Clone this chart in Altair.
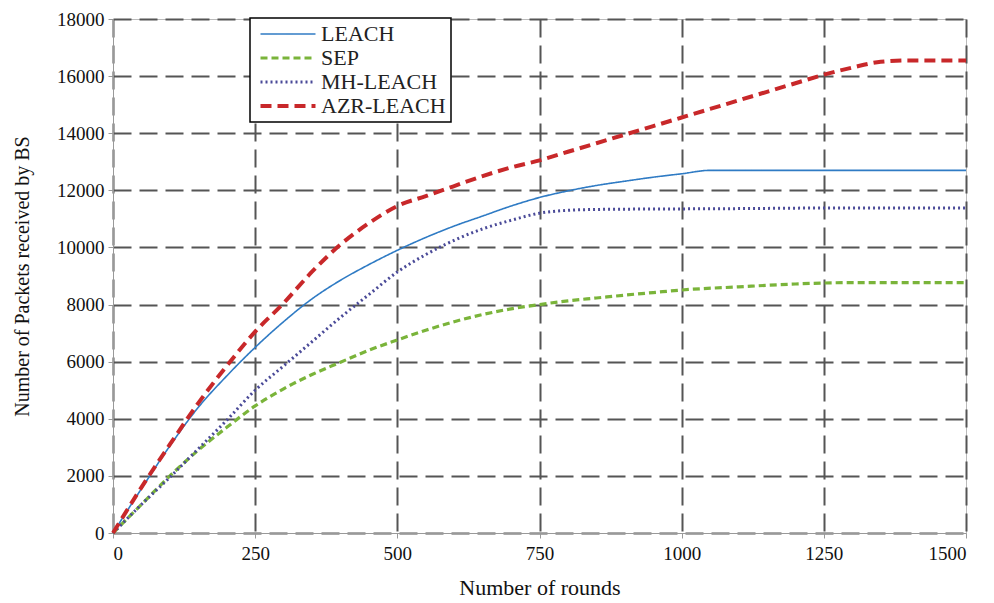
import altair as alt
import pandas as pd

series_names = ["LEACH", "SEP", "MH-LEACH", "AZR-LEACH"]

leach_r = [0, 50, 100, 150, 200, 250, 300, 350, 400, 450, 500, 550, 600, 650, 700, 750, 800, 850, 900, 950, 1000, 1050, 1100, 1200, 1300, 1400, 1500]
leach_v = [0, 1550, 3050, 4400, 5500, 6500, 7400, 8200, 8850, 9400, 9900, 10350, 10750, 11100, 11450, 11750, 11980, 12170, 12320, 12460, 12580, 12700, 12700, 12700, 12700, 12700, 12700]

sep_r = [0, 50, 100, 150, 200, 250, 300, 350, 400, 450, 500, 550, 600, 650, 700, 750, 800, 850, 900, 950, 1000, 1100, 1200, 1250, 1300, 1400, 1500]
sep_v = [0, 1000, 2000, 2900, 3700, 4450, 5050, 5550, 5980, 6400, 6760, 7100, 7400, 7650, 7850, 8000, 8130, 8230, 8330, 8420, 8510, 8620, 8720, 8755, 8770, 8770, 8770]

mh_r = [0, 50, 100, 150, 200, 250, 300, 350, 400, 450, 500, 550, 600, 650, 700, 750, 800, 850, 900, 1000, 1100, 1250, 1500]
mh_v = [0, 1000, 1950, 2950, 3950, 5000, 5850, 6700, 7550, 8350, 9140, 9750, 10250, 10650, 10950, 11200, 11300, 11330, 11340, 11350, 11360, 11380, 11380]

azr_r = [0, 50, 100, 150, 200, 250, 300, 350, 400, 450, 500, 550, 600, 650, 700, 750, 800, 850, 900, 950, 1000, 1050, 1100, 1150, 1200, 1250, 1300, 1350, 1400, 1500]
azr_v = [0, 1600, 3100, 4550, 5850, 7050, 8050, 9150, 10100, 10850, 11450, 11800, 12150, 12500, 12800, 13050, 13350, 13650, 13950, 14250, 14550, 14850, 15150, 15450, 15750, 16050, 16300, 16500, 16550, 16550]

rows = []
for name, rr, vv in [("LEACH", leach_r, leach_v), ("SEP", sep_r, sep_v),
                     ("MH-LEACH", mh_r, mh_v), ("AZR-LEACH", azr_r, azr_v)]:
    for r, v in zip(rr, vv):
        rows.append({"series": name, "rounds": r, "packets": v})
df = pd.DataFrame(rows)

colors = ["#2f7bc4", "#7ab43a", "#4a4a98", "#c8282a"]
dashes = [[1, 0], [7, 4], [2, 3], [11, 6]]
widths = [1.6, 3.2, 3, 4]

FONT = "Liberation Serif"

legend = alt.Legend(
    title=None, orient="none", legendX=137, legendY=-1,
    fillColor="white", strokeColor="black",
    padding=5, labelFont=FONT, labelFontSize=22, labelColor="#222",
    symbolType="M-5,0H5", symbolSize=121, rowPadding=2,
    symbolOffset=22, labelOffset=22,
    labelLimit=300,
)

chart = alt.Chart(df).mark_line(interpolate="monotone").encode(
    x=alt.X("rounds:Q", title="Number of rounds",
            scale=alt.Scale(domain=[0, 1500], nice=False),
            axis=alt.Axis(values=[0, 250, 500, 750, 1000, 1250, 1500], format="d")),
    y=alt.Y("packets:Q", title="Number of Packets received by BS",
            scale=alt.Scale(domain=[0, 18000], nice=False),
            axis=alt.Axis(values=list(range(0, 18001, 2000)), format="d")),
    color=alt.Color("series:N", sort=series_names,
                    scale=alt.Scale(domain=series_names, range=colors), legend=legend),
    strokeDash=alt.StrokeDash("series:N", sort=series_names,
                              scale=alt.Scale(domain=series_names, range=dashes), legend=legend),
    strokeWidth=alt.StrokeWidth("series:N", sort=series_names,
                                scale=alt.Scale(type="ordinal", domain=series_names, range=widths),
                                legend=legend),
).properties(
    width=853, height=514,
    autosize=alt.AutoSizeParams(type="none"),
    padding={"left": 113, "top": 19, "right": 28, "bottom": 70},
    background="white",
).configure_view(
    stroke="#bbbbbb", strokeWidth=1
).configure_legend(
    strokeWidth=1.5
).configure_axis(
    grid=True, gridColor="#555555", gridDash=[18, 8], gridWidth=2, gridOpacity=1,
    domainColor="#999999", domainWidth=1,
    tickColor="#999999", tickSize=5,
    labelFont=FONT, labelFontSize=19, labelColor="#111",
    titleFont=FONT, titleFontWeight="normal", titleColor="#111",
).configure_axisX(
    labelPadding=6, titlePadding=14, titleFontSize=22,
).configure_axisY(
    labelPadding=4, titlePadding=24, titleFontSize=20,
)

chart.save("out.html", embed_options={"renderer": "svg", "actions": False})
